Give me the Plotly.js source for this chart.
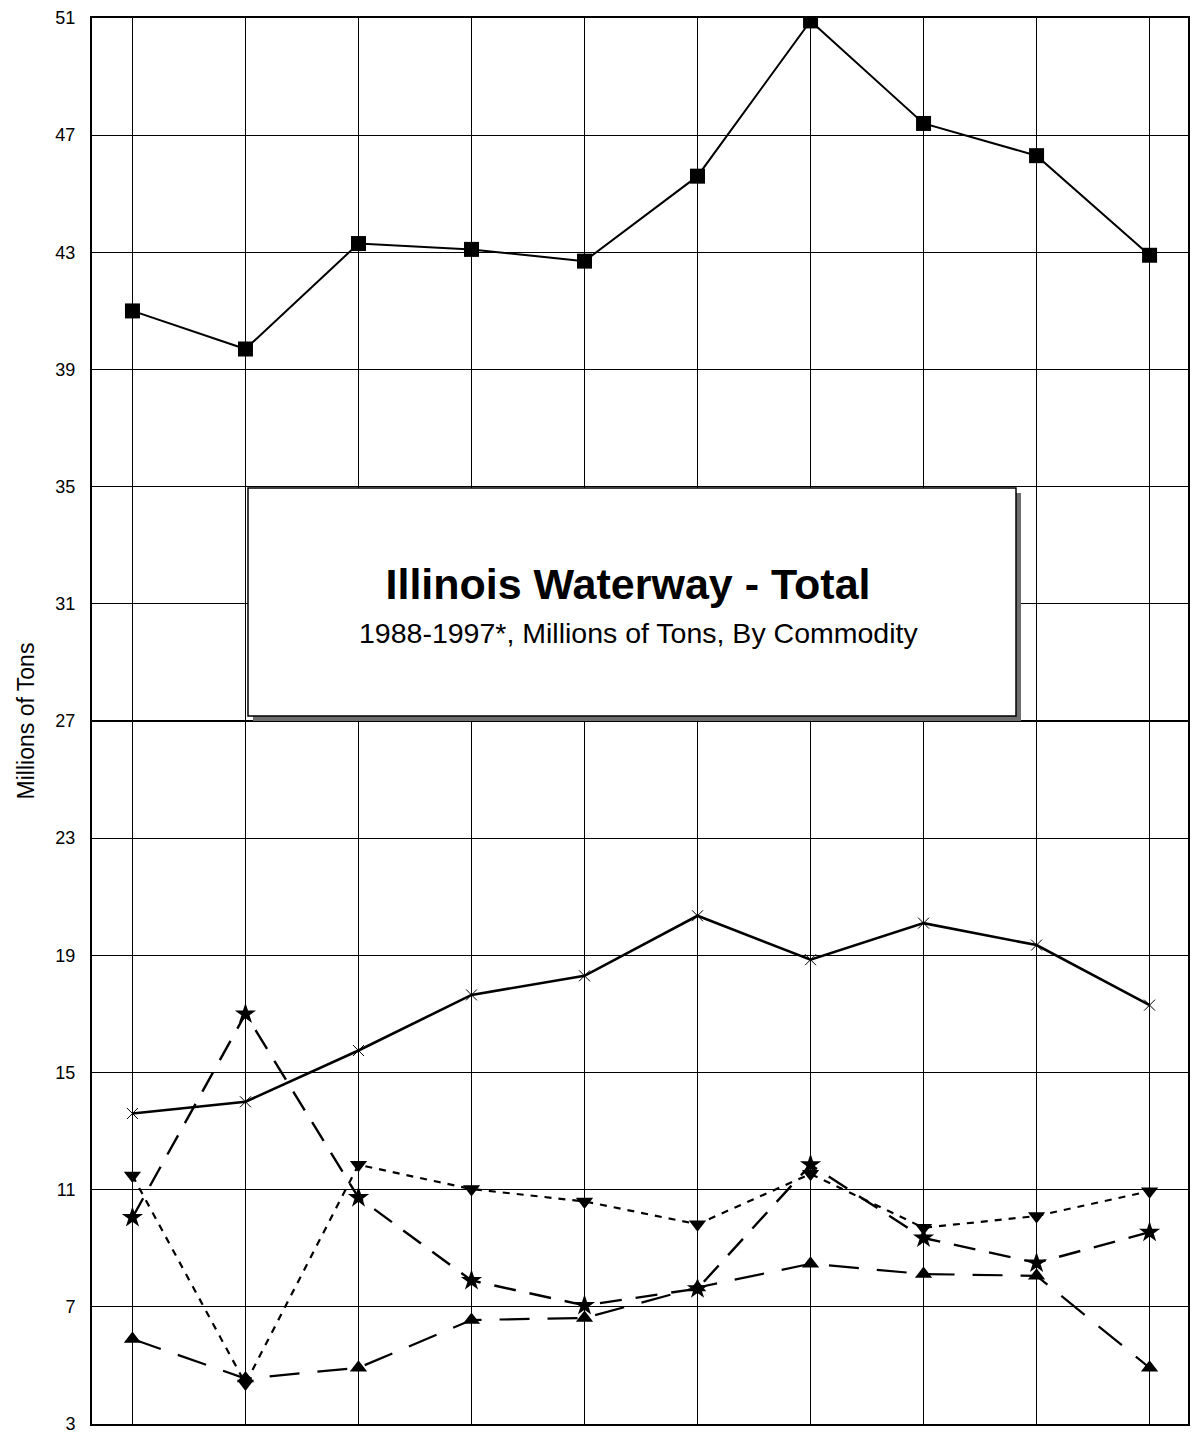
<!DOCTYPE html>
<html>
<head>
<meta charset="utf-8">
<script src="https://cdn.plot.ly/plotly-3.0.1.min.js"></script>
<style>
  html, body { margin: 0; padding: 0; background: #ffffff; }
  #chart { width: 1196px; height: 1437px; }
</style>
</head>
<body>
<div id="chart"></div>
<script>
// ---- Data ----
const years = [1988, 1989, 1990, 1991, 1992, 1993, 1994, 1995, 1996, 1997];

const totalSquares   = [41.0, 39.7, 43.3, 43.1, 42.7, 45.6, 50.9, 47.4, 46.3, 42.9];
const solidXSeries   = [13.6, 14.0, 15.75, 17.65, 18.3, 20.35, 18.85, 20.1, 19.35, 17.3];
const starSeries     = [10.05, 17.0, 10.73, 7.9, 7.05, 7.62, 11.85, 9.35, 8.5, 9.55];
const invTriSeries   = [11.48, 4.38, 11.85, 11.02, 10.6, 9.82, 11.54, 9.7, 10.1, 10.95];
const triSeries      = [5.9, 4.55, 4.92, 6.55, 6.62, 7.66, 8.47, 8.12, 8.06, 4.92];

const yTickVals = [3, 7, 11, 15, 19, 23, 27, 31, 35, 39, 43, 47, 51];

const titleText = "Illinois Waterway - Total";
const subtitleText = "1988-1997*, Millions of Tons, By Commodity";
const yAxisTitle = "Millions of Tons";

// ---- Traces ----
const FONT = "Liberation Sans, Arial, Helvetica, sans-serif";

const traces = [
  {
    x: years, y: totalSquares, type: "scatter", mode: "lines+markers",
    line: { color: "#000", width: 2, dash: "solid" },
    marker: { symbol: "square", size: 15, color: "#000" },
    name: "Total"
  },
  {
    x: years, y: solidXSeries, type: "scatter", mode: "lines+markers",
    line: { color: "#000", width: 2.6, dash: "solid" },
    marker: { symbol: "x-thin-open", size: 11, color: "#000", line: { width: 1, color: "#000" } },
    name: "Series 2"
  },
  {
    x: years, y: starSeries, type: "scatter", mode: "lines+markers",
    line: { color: "#000", width: 2.4, dash: "22px,14px" },
    marker: { symbol: "star", size: 16, color: "#000" },
    name: "Series 3"
  },
  {
    x: years, y: invTriSeries, type: "scatter", mode: "lines+markers",
    line: { color: "#000", width: 2.2, dash: "7px,7px" },
    marker: { symbol: "triangle-down", size: 15, color: "#000" },
    name: "Series 4"
  },
  {
    x: years, y: triSeries, type: "scatter", mode: "lines+markers",
    line: { color: "#000", width: 2.2, dash: "30px,18px" },
    marker: { symbol: "triangle-up", size: 15, color: "#000" },
    name: "Series 5"
  }
];

// ---- Layout ----
const L = 92, R = 1188, T = 18, B = 1424;
const px2x = p => (p - L) / (R - L);
const px2y = p => (B - p) / (B - T);

const layout = {
  width: 1196,
  height: 1437,
  margin: { l: L, r: 1196 - R, t: T, b: 1437 - B, pad: 0 },
  paper_bgcolor: "#ffffff",
  plot_bgcolor: "#ffffff",
  showlegend: false,
  font: { family: FONT, color: "#000" },
  title: {
    text: "<b>" + titleText + "</b>",
    font: { family: FONT, size: 43, color: "#000" },
    xref: "container", yref: "container",
    x: 628 / 1196, xanchor: "center",
    y: 1 - 584 / 1437, yanchor: "middle"
  },
  xaxis: {
    type: "linear",
    range: [1987.642, 1997.34],
    tick0: 1988, dtick: 1,
    showticklabels: false,
    ticks: "",
    showgrid: true, gridcolor: "#000", gridwidth: 1,
    zeroline: false,
    showline: true, linecolor: "#000", linewidth: 2, mirror: true,
    fixedrange: true
  },
  yaxis: {
    range: [3, 51],
    tickmode: "array",
    tickvals: yTickVals,
    ticktext: yTickVals.map(String),
    tickfont: { family: FONT, size: 18, color: "#000" },
    ticks: "",
    ticklabelstandoff: 11,
    ticklabeloverflow: "allow",
    showgrid: true, gridcolor: "#000", gridwidth: 1.2,
    zeroline: false,
    showline: true, linecolor: "#000", linewidth: 2, mirror: true,
    title: { text: yAxisTitle, font: { family: FONT, size: 23, color: "#000" }, standoff: 14 },
    fixedrange: true
  },
  shapes: [
    // shadow
    {
      type: "rect", xref: "paper", yref: "paper", layer: "above",
      x0: px2x(253), x1: px2x(1021), y0: px2y(721), y1: px2y(493),
      fillcolor: "#6e6e6e", line: { width: 0 }
    },
    // title box
    {
      type: "rect", xref: "paper", yref: "paper", layer: "above",
      x0: px2x(248), x1: px2x(1016), y0: px2y(716), y1: px2y(488),
      fillcolor: "#ffffff", line: { color: "#000", width: 1.5 }
    }
  ],
  annotations: [
    {
      text: subtitleText, xref: "paper", yref: "paper",
      x: px2x(638), y: px2y(633), xanchor: "center", yanchor: "middle",
      showarrow: false,
      font: { family: FONT, size: 28.5, color: "#000" }
    }
  ]
};

Plotly.newPlot("chart", traces, layout, { displayModeBar: false, staticPlot: true });
</script>
</body>
</html>
